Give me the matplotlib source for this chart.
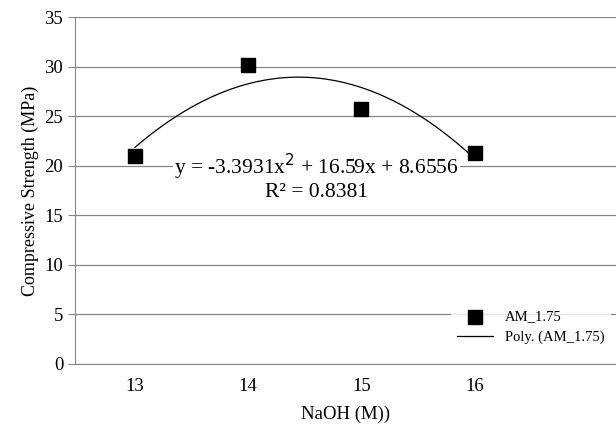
import numpy as np
import matplotlib.pyplot as plt

plt.rcParams['font.family'] = 'Liberation Serif'

naoh = ['13', '14', '15', '16']
strength = [21.0, 30.2, 25.7, 21.3]
coef = [-3.3931, 16.59, 8.6556]

pos = np.arange(1, len(naoh) + 1)

fig = plt.figure(figsize=(6.16, 4.37), dpi=100)
ax = fig.add_axes([75/616, 1 - 364/437, 1 - 75/616, (364 - 17)/437])

xs = np.linspace(1, 4, 200)
ax.plot(xs, np.polyval(coef, xs), color='black', lw=0.9, label='Poly. (AM_1.75)', zorder=3)
ax.scatter(pos, strength, marker='s', s=100, color='black', label='AM_1.75', zorder=4)

ax.set_xlim(0.47, 5.25)
ax.set_ylim(0, 35)
ax.set_yticks(range(0, 36, 5))
ax.set_xticks(pos)
ax.set_xticklabels(naoh)
ax.grid(axis='y', color='#868686', lw=0.9)
ax.set_axisbelow(True)
for s in ['top', 'right']:
    ax.spines[s].set_visible(False)
for s in ['left', 'bottom']:
    ax.spines[s].set_color('#868686')
ax.tick_params(axis='x', length=0, labelsize=13.5, pad=10)
ax.tick_params(axis='y', length=5, color='#868686', labelsize=13.5)
ax.set_xlabel('NaOH (M))', fontsize=13.5, labelpad=8)
ax.set_ylabel('Compressive Strength (MPa)', fontsize=13)

ax.text(2.6, 18.9, 'y = -3.3931x$^2$ + 16.59x + 8.6556\nR² = 0.8381',
        ha='center', va='center', fontsize=15.5, linespacing=1.1,
        bbox=dict(facecolor='white', edgecolor='none', pad=1))

leg = ax.legend(handles=ax.get_legend_handles_labels()[0][::-1],
                loc='lower right', bbox_to_anchor=(0.99, 0.04), frameon=True,
                fontsize=10.5, handlelength=2.5, borderaxespad=0, fancybox=False)
leg.get_frame().set_edgecolor('none')

fig.savefig('out.png', dpi=100)
